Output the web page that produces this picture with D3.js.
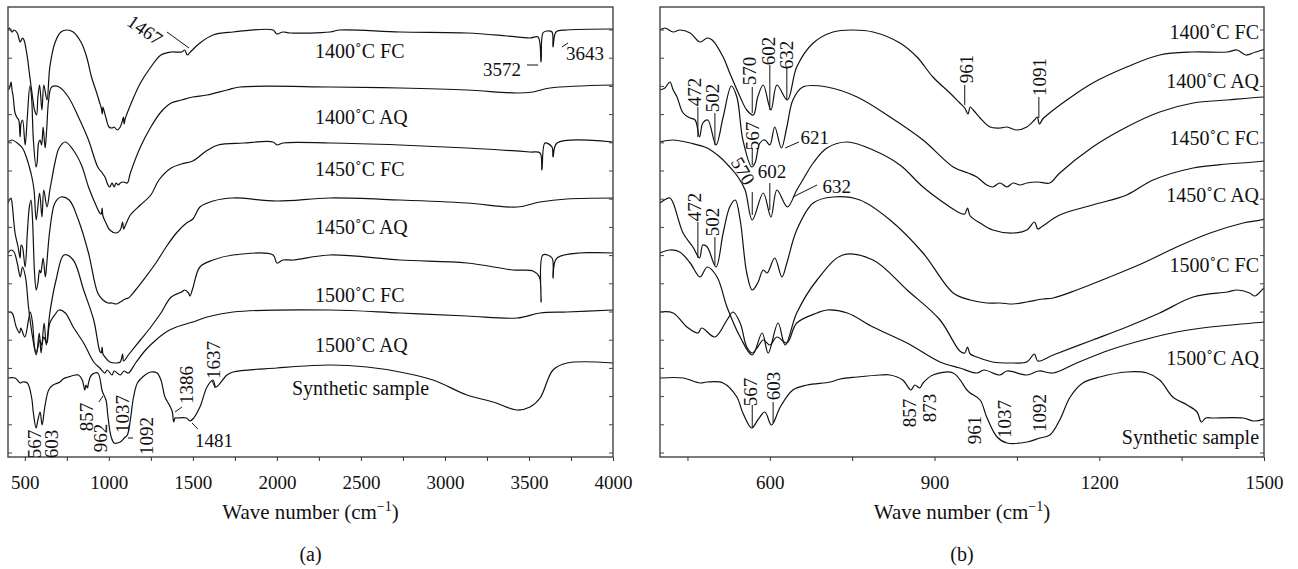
<!DOCTYPE html>
<html>
<head>
<meta charset="utf-8">
<script src="https://cdn.jsdelivr.net/npm/d3@7"></script>
<style>
  body { margin: 0; background: #fff; }
  text { font-family: "Liberation Serif", "Times New Roman", serif; fill: #111; }
</style>
</head>
<body>
<svg id="chart" width="1298" height="569"></svg>
<script>
// IR spectra: [wave number (cm-1), transmittance (a.u., stacked with offset)]
var fc1400 = [[400,427],[409,429],[424,425],[436,427],[455,424],[473,415],[486,419],[495,417],[515,400],[527,384],[546,360],[558,347],[570,342],[578,360],[588,372],[602,347],[613,372],[632,357],[649,390],[679,414],[715,425],[750,427],[788,425],[837,414],[868,400],[897,380],[928,364],[946,354],[955,349],[961,343],[965,350],[972,346],[983,339],[1001,330],[1019,329],[1032,330],[1050,327],[1068,330],[1082,337],[1087,340],[1091,333],[1097,338],[1105,342],[1141,357],[1188,374],[1250,390],[1310,402],[1371,405],[1433,405],[1451,407],[1467,402],[1485,405],[1542,414],[1620,422],[1739,425],[1977,427],[2000,423],[2036,425],[2078,424],[2316,425],[2375,427],[2732,425],[3131,424],[3369,421],[3506,419],[3554,420],[3572,395],[3583,424],[3607,426],[3637,425],[3643,410],[3661,425],[3726,427],[4000,428]];
var aq1400 = [[400,367],[409,369],[418,375],[424,367],[431,360],[442,344],[455,339],[464,337],[472,320],[478,334],[487,337],[502,312],[515,340],[530,371],[540,360],[551,317],[567,290],[573,294],[582,314],[591,317],[600,312],[609,330],[621,309],[631,330],[642,357],[660,370],[704,370],[759,360],[819,340],[879,317],[934,290],[961,284],[977,280],[995,272],[1006,270],[1019,274],[1032,270],[1043,274],[1056,272],[1068,274],[1088,275],[1110,274],[1128,284],[1188,310],[1250,330],[1310,345],[1371,354],[1433,357],[1500,360],[1584,362],[1703,367],[1780,370],[2316,370],[2732,369],[3131,367],[3429,364],[3524,365],[3625,369],[4000,372]];
var fc1450 = [[400,315],[424,317],[455,314],[486,309],[509,300],[527,290],[542,280],[555,267],[568,237],[588,264],[602,240],[613,267],[632,250],[649,267],[660,277],[679,294],[704,309],[741,315],[788,307],[837,292],[879,270],[928,250],[946,244],[955,243],[960,249],[965,241],[983,234],[1006,227],[1043,224],[1068,227],[1082,235],[1088,228],[1097,231],[1128,242],[1188,252],[1250,262],[1298,277],[1371,289],[1433,293],[1500,296],[1580,306],[1650,312],[1800,314],[1977,315],[2000,312],[2036,314],[2316,314],[2732,312],[3131,309],[3506,305],[3566,304],[3577,287],[3595,314],[3637,310],[3643,300],[3667,314],[4000,315]];
var aq1450 = [[400,254],[418,259],[424,254],[442,224],[460,210],[472,199],[478,212],[486,210],[502,190],[515,224],[527,250],[537,257],[546,237],[558,184],[568,167],[578,174],[588,187],[595,184],[609,199],[622,180],[631,194],[649,227],[679,254],[715,260],[764,257],[819,237],[879,204],[934,164],[965,157],[995,154],[1019,154],[1043,153],[1068,155],[1097,158],[1116,159],[1159,167],[1219,180],[1280,194],[1341,210],[1402,224],[1462,234],[1500,238],[1542,250],[1620,256],[1739,259],[2000,256],[2316,259],[2732,257],[3131,254],[3429,250],[3566,255],[3726,258],[4000,259]];
var fc1500 = [[400,204],[418,207],[436,205],[455,194],[473,180],[486,190],[504,180],[522,150],[546,120],[568,102],[586,124],[597,104],[615,134],[628,112],[649,144],[686,177],[733,202],[788,197],[850,167],[910,137],[946,106],[955,104],[960,110],[965,103],[977,100],[1006,95],[1043,94],[1068,95],[1082,103],[1088,96],[1116,102],[1188,117],[1250,130],[1310,144],[1371,160],[1433,165],[1451,167],[1474,164],[1483,161],[1500,169],[1542,190],[1620,197],[1739,202],[1977,202],[2000,194],[2036,197],[2096,197],[2316,202],[2732,197],[3131,194],[3405,187],[3524,186],[3562,180],[3572,155],[3583,202],[3637,199],[3643,179],[3667,199],[4000,204]];
var aq1500 = [[400,145],[424,144],[449,130],[469,124],[476,129],[500,120],[522,137],[533,145],[546,134],[558,110],[568,104],[578,110],[588,117],[600,112],[613,120],[631,114],[649,134],[686,144],[704,147],[741,144],[788,130],[850,114],[910,95],[946,89],[977,84],[990,87],[1019,82],[1032,86],[1068,82],[1090,86],[1116,84],[1159,94],[1219,107],[1280,117],[1341,125],[1402,130],[1500,135],[1584,140],[1739,145],[2316,147],[2732,144],[3131,141],[3429,139],[3566,144],[3726,145],[4000,147]];
var synthetic = [[400,79],[442,79],[473,74],[486,75],[515,74],[540,60],[551,44],[567,29],[578,37],[591,45],[603,32],[619,50],[642,67],[668,72],[710,75],[728,78],[759,80],[801,82],[819,82],[842,77],[857,67],[864,72],[873,69],[879,74],[897,82],[934,84],[959,67],[965,64],[983,57],[995,40],[1014,20],[1032,14],[1068,15],[1092,19],[1110,22],[1128,37],[1147,60],[1170,74],[1201,80],[1250,85],[1287,84],[1310,77],[1334,60],[1360,52],[1378,45],[1386,35],[1394,39],[1407,39],[1462,39],[1481,36],[1500,38],[1542,50],[1584,70],[1620,77],[1637,70],[1703,82],[1739,85],[2000,89],[2316,92],[2536,90],[2732,85],[2929,77],[3131,62],[3286,55],[3429,47],[3506,50],[3566,59],[3643,87],[3726,94],[4000,94]];

var sampleNames = ["1400˚C FC", "1400˚C AQ", "1450˚C FC", "1450˚C AQ", "1500˚C FC", "1500˚C AQ", "Synthetic sample"];
var spectra = [fc1400, aq1400, fc1450, aq1450, fc1500, aq1500, synthetic];

// axis ticks
var ticksA = d3.range(500, 4001, 250);
var labelsA = [500, 1000, 1500, 2000, 2500, 3000, 3500, 4000];
var ticksB = d3.range(450, 1501, 150);
var labelsB = [600, 900, 1200, 1500];
var yTicks = d3.range(4, 440, 28.2);

// peak assignments: text, wave number, level, rotation
var peaksA = [
  ["1467", 1215, 427, 35], ["3572", 3339, 388, 0], ["3643", 3833, 404, 0],
  ["567", 558, 13, -90], ["603", 659, 13, -90], ["857", 867, 40, -90], ["962", 950, 19, -90],
  ["1037", 1081, 43, -90], ["1092", 1224, 21, -90], ["1386", 1465, 72, -90], ["1637", 1623, 97, -90],
  ["1481", 1626, 17, 0]
];
var leadersA = [
  [1346, 425, 1477, 409], [3488, 392, 3554, 392], [3696, 410, 3732, 414], [941, 55, 965, 61],
  [1114, 19, 1144, 19], [1394, 45, 1435, 50], [1615, 76, 1633, 69], [1495, 34, 1530, 28]
];
var peaksB = [
  ["472", 463, 365, -90], ["502", 496, 359, -90], ["570", 563, 386, -90], ["602", 598, 406, -90], ["632", 630, 402, -90],
  ["567", 568, 321, -90], ["621", 682, 320, 0],
  ["570", 551, 286, 60], ["602", 604, 286, 0], ["632", 722, 271, 0],
  ["472", 463, 250, -90], ["502", 496, 235, -90],
  ["961", 958, 388, -90], ["1091", 1091, 380, -90],
  ["567", 564, 65, -90], ["603", 606, 71, -90], ["857", 854, 44, -90], ["873", 891, 49, -90],
  ["961", 973, 27, -90], ["1037", 1028, 38, -90], ["1092", 1092, 44, -90]
];
var leadersB = [
  [469, 350, 469, 320], [500, 344, 500, 312], [568, 370, 568, 344], [600, 392, 600, 347], [631, 389, 631, 357],
  [568, 309, 568, 292], [628, 309, 653, 315], [568, 265, 568, 242], [600, 274, 600, 247], [642, 260, 686, 272],
  [469, 235, 469, 199], [500, 220, 500, 192], [955, 372, 955, 352], [1090, 360, 1090, 339],
  [568, 52, 568, 30], [606, 55, 606, 34]
];

// sample label positions (wave number, level)
var labelPosA = [[2227, 399], [2227, 333], [2227, 281], [2227, 223], [2227, 155], [2227, 105], [2090, 62]];
var labelPosB = [[1491, 418], [1491, 369], [1491, 312], [1491, 255], [1491, 185], [1491, 92], [1491, 13]];

var svg = d3.select("#chart");
var plotTop = 7, plotBottom = 457;
var y = d3.scaleLinear().domain([0, 450]).range([plotBottom, plotTop]);

var panels = [
  { id: "a", x: d3.scaleLinear().domain([400, 4000]).range([8, 613]), ticks: ticksA, labels: labelsA,
    peaks: peaksA, leaders: leadersA, names: labelPosA, anchor: "start" },
  { id: "b", x: d3.scaleLinear().domain([400, 1500]).range([660, 1264]), ticks: ticksB, labels: labelsB,
    peaks: peaksB, leaders: leadersB, names: labelPosB, anchor: "end" }
];

panels.forEach(function(p) {
  var x = p.x;
  var x0 = x.range()[0], x1 = x.range()[1];
  var g = svg.append("g");

  g.append("clipPath").attr("id", "clip-" + p.id)
    .append("rect").attr("x", x0).attr("y", plotTop).attr("width", x1 - x0).attr("height", plotBottom - plotTop);

  var line = d3.line()
    .x(function(d) { return x(d[0]); })
    .y(function(d) { return y(d[1]); })
    .curve(d3.curveCatmullRom.alpha(0.5));

  g.append("g").attr("clip-path", "url(#clip-" + p.id + ")")
    .selectAll("path").data(spectra).join("path")
    .attr("d", line)
    .attr("fill", "none")
    .attr("stroke", "#111")
    .attr("stroke-width", 1.2);

  // frame
  g.append("rect").attr("x", x0).attr("y", plotTop).attr("width", x1 - x0).attr("height", plotBottom - plotTop)
    .attr("fill", "none").attr("stroke", "#444").attr("stroke-width", 1.4);

  // y ticks, inward on both sides
  g.append("g").selectAll("line").data(yTicks).join("line")
    .attr("x1", x0).attr("x2", x0 + 4).attr("y1", function(d) { return y(d); }).attr("y2", function(d) { return y(d); })
    .attr("stroke", "#444");
  g.append("g").selectAll("line").data(yTicks).join("line")
    .attr("x1", x1 - 4).attr("x2", x1).attr("y1", function(d) { return y(d); }).attr("y2", function(d) { return y(d); })
    .attr("stroke", "#444");

  // x axis
  var ax = g.append("g").attr("transform", "translate(0," + plotBottom + ")")
    .call(d3.axisBottom(x).tickValues(p.ticks).tickSize(4).tickPadding(15)
      .tickFormat(function(d) { return p.labels.indexOf(d) >= 0 ? d : ""; }));
  ax.select(".domain").remove();
  ax.selectAll("line").attr("stroke", "#333");
  ax.selectAll("text").attr("font-size", 19).attr("font-family", "Liberation Serif, serif").attr("fill", "#111");

  var cx = (x0 + x1) / 2;
  var title = g.append("text").attr("x", cx).attr("y", 519).attr("text-anchor", "middle").attr("font-size", 21);
  title.append("tspan").text("Wave number (cm");
  title.append("tspan").attr("font-size", 14).attr("dy", -8).text("−1");
  title.append("tspan").attr("dy", 8).text(")");

  g.append("text").attr("x", cx).attr("y", 561).attr("text-anchor", "middle").attr("font-size", 20)
    .text("(" + p.id + ")");

  // sample names
  g.append("g").selectAll("text").data(sampleNames).join("text")
    .attr("x", function(d, i) { return x(p.names[i][0]); })
    .attr("y", function(d, i) { return y(p.names[i][1]); })
    .attr("text-anchor", p.anchor)
    .attr("font-size", 20)
    .text(function(d) { return d; });

  // peak leaders and numbers
  g.append("g").selectAll("line").data(p.leaders).join("line")
    .attr("x1", function(d) { return x(d[0]); }).attr("y1", function(d) { return y(d[1]); })
    .attr("x2", function(d) { return x(d[2]); }).attr("y2", function(d) { return y(d[3]); })
    .attr("stroke", "#111").attr("stroke-width", 1);

  g.append("g").selectAll("text").data(p.peaks).join("text")
    .attr("transform", function(d) { return "translate(" + x(d[1]) + "," + y(d[2]) + ") rotate(" + d[3] + ")"; })
    .attr("text-anchor", "middle")
    .attr("dominant-baseline", "central")
    .attr("font-size", 19)
    .text(function(d) { return d[0]; });
});
</script>
</body>
</html>
